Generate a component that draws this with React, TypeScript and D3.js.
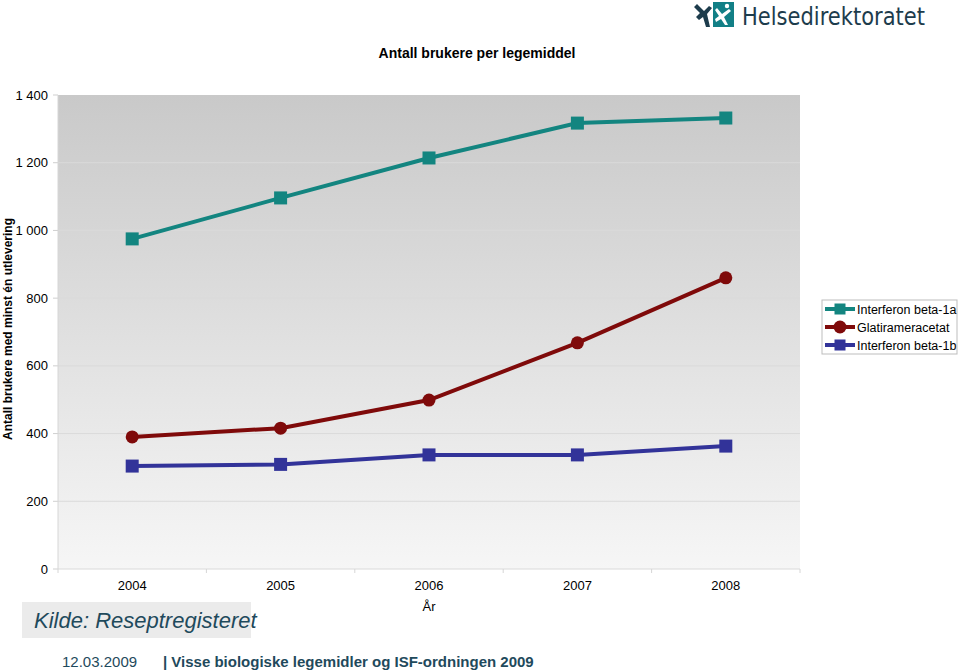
import React from "react";
import * as d3 from "d3";

const years = ["2004", "2005", "2006", "2007", "2008"];
const beta1a = [975, 1096, 1214, 1317, 1332];
const glatiramer = [390, 416, 499, 668, 860];
const beta1b = [304, 309, 337, 337, 363];
const yTicks = [0, 200, 400, 600, 800, 1000, 1200, 1400];

const seriesNames = ["Interferon beta-1a", "Glatirameracetat", "Interferon beta-1b"];
const seriesColors = ["#138580", "#7f0a0a", "#323399"];
const seriesShapes = ["square", "circle", "square"];
const seriesValues = [beta1a, glatiramer, beta1b];

const W = 960, H = 672;
const plot = { left: 58, right: 800, top: 95, bottom: 569 };

export default function App() {
  const x = d3.scaleBand<string>().domain(years).range([plot.left, plot.right]);
  const y = d3.scaleLinear().domain([0, 1400]).range([plot.bottom, plot.top]);
  const line = d3.line<number>()
    .x((_, i) => (x(years[i]) as number) + x.bandwidth() / 2)
    .y((d) => y(d));
  const fmt = (v: number) => d3.format(",")(v).replace(",", " ");
  const font = "Liberation Sans, Arial, sans-serif";

  const marker = (shape: string, cx: number, cy: number, color: string, key: string, s = 13) =>
    shape === "circle" ? (
      <circle key={key} cx={cx} cy={cy} r={6.5} fill={color} />
    ) : (
      <rect key={key} x={cx - s / 2} y={cy - s / 2} width={s} height={s} fill={color} />
    );

  return (
    <svg width={W} height={H} style={{ position: "absolute", left: 0, top: 0, background: "#fff" }} fontFamily={font}>
      <defs>
        <linearGradient id="bg" x1="0" y1="0" x2="0" y2="1">
          <stop offset="0" stopColor="#c9c9c9" />
          <stop offset="1" stopColor="#f6f6f6" />
        </linearGradient>
      </defs>
      <rect x={0} y={0} width={W} height={H} fill="#fff" />

      {/* Logo */}
      <g>
        <path d="M697,4 L704,11 L709,6 L712,8 L707,14 L710,27 L706,27 L703,17 L699,20 L696,17 L700,13 L694,7 Z" fill="#1d3c4c" />
        <rect x={713} y={2} width={21} height={25} fill="#127f86" />
        <path d="M717,8 L722,14 L729,9 L731,11 L724,17 L728,25 L725,25 L721,19 L716,22 L715,19 L719,16 L715,10 Z" fill="#fff" />
        <circle cx={727} cy={6} r={2.2} fill="#fff" />
        <text x={742} y={25} fontFamily="DejaVu Sans Condensed, DejaVu Sans, sans-serif" fontSize={25} fill="#1d3c4c" textLength={183} lengthAdjust="spacingAndGlyphs">Helsedirektoratet</text>
      </g>

      <text x={477} y={58} textAnchor="middle" fontSize={14} fontWeight="bold" fill="#000">Antall brukere per legemiddel</text>

      <rect x={plot.left} y={plot.top} width={plot.right - plot.left} height={plot.bottom - plot.top} fill="url(#bg)" />
      {yTicks.map((t) => (
        <g key={t}>
          <line x1={plot.left} x2={plot.right} y1={y(t)} y2={y(t)} stroke="#dadada" strokeWidth={1} opacity={t === 1400 ? 0 : 1} />
          <line x1={plot.left - 5} x2={plot.left} y1={y(t)} y2={y(t)} stroke="#cfcfcf" />
          <text x={plot.left - 10} y={y(t) + 4.5} textAnchor="end" fontSize={13} fill="#000">{fmt(t)}</text>
        </g>
      ))}
      <line x1={plot.left} x2={plot.left} y1={plot.top} y2={plot.bottom} stroke="#d6d6d6" />
      {years.map((yr) => (
        <g key={yr}>
          <line x1={(x(yr) as number)} x2={(x(yr) as number)} y1={plot.bottom} y2={plot.bottom + 4} stroke="#d6d6d6" />
          <text x={(x(yr) as number) + x.bandwidth() / 2} y={plot.bottom + 21} textAnchor="middle" fontSize={13} fill="#000">{yr}</text>
        </g>
      ))}
      <line x1={plot.right} x2={plot.right} y1={plot.bottom} y2={plot.bottom + 4} stroke="#d6d6d6" />
      <text x={429} y={611} textAnchor="middle" fontSize={13} fill="#000">År</text>
      <text transform={`translate(12,${329}) rotate(-90)`} textAnchor="middle" fontSize={12} fontWeight="bold" fill="#000">Antall brukere med minst én utlevering</text>

      {seriesValues.map((vals, si) => (
        <g key={si}>
          <path d={line(vals) as string} fill="none" stroke={seriesColors[si]} strokeWidth={4} />
          {vals.map((v, i) => marker(seriesShapes[si], (x(years[i]) as number) + x.bandwidth() / 2, y(v), seriesColors[si], `${si}-${i}`))}
        </g>
      ))}

      {/* Legend */}
      <rect x={822} y={300} width={135} height={54} fill="#fff" stroke="#bdbdbd" strokeWidth={1} />
      {seriesNames.map((n, i) => {
        const ly = 309 + i * 18;
        return (
          <g key={n}>
            <line x1={825} x2={855} y1={ly} y2={ly} stroke={seriesColors[i]} strokeWidth={4} />
            {marker(seriesShapes[i], 840, ly, seriesColors[i], "lg" + i, 11)}
            <text x={857} y={ly + 4.5} fontSize={12.5} fill="#000">{n}</text>
          </g>
        );
      })}

      {/* Source box */}
      <rect x={22} y={602} width={229} height={36} fill="#ebebeb" />
      <text x={34} y={628} fontSize={22} fontStyle="italic" fill="#1f4a5c">Kilde: Reseptregisteret</text>

      <text x={62} y={667} fontSize={15} fill="#1f4a5c">12.03.2009</text>
      <text x={163} y={667} fontSize={15} fontWeight="bold" fill="#1f4a5c">| Visse biologiske legemidler og ISF-ordningen 2009</text>
    </svg>
  );
}
